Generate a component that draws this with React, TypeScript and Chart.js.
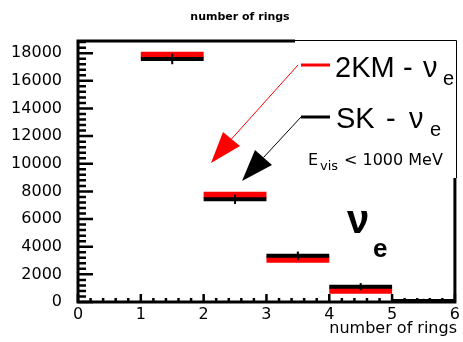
import React, { useEffect, useRef } from "react";
import { Chart, registerables } from "chart.js";

Chart.register(...registerables);

// ---- data ----
const binLowEdges = [0, 1, 2, 3, 4, 5];
const binWidth = 1;
const red2KM = [0, 17870, 7740, 3070, 830, 0];
const blackSK = [0, 17580, 7430, 3350, 1110, 80];
const skErrors = [0, 380, 340, 300, 260, 150];
const yTickValues = [0, 2000, 4000, 6000, 8000, 10000, 12000, 14000, 16000, 18000];
const xTickValues = [0, 1, 2, 3, 4, 5, 6];
const titleText = "number of rings";
const xAxisTitle = "number of rings";
const legendRedName = "2KM";
const legendBlackName = "SK";
const nu = "\u03bd";

const FONT = "'DejaVu Sans', sans-serif";
const HFONT = "'Liberation Sans', Arial, sans-serif";

function histPoints(values: number[]) {
  const pts: any[] = [];
  values.forEach((v, i) => {
    const lo = binLowEdges[i];
    const y = v > 0 ? v : null; // empty bins are hidden under the axis
    pts.push({ x: lo, y });
    pts.push({ x: lo + binWidth, y });
    pts.push({ x: lo + binWidth, y: null });
  });
  return pts;
}

const decorPlugin = {
  id: "decor",
  afterDatasetsDraw(chart: any) {
    const ctx = chart.ctx;
    const xs = chart.scales.x;
    const ys = chart.scales.y;
    const ca = chart.chartArea;
    ctx.save();

    // error bars on SK histogram
    ctx.strokeStyle = "#000";
    ctx.lineWidth = 2;
    blackSK.forEach((v, i) => {
      if (!skErrors[i]) return;
      const cx = xs.getPixelForValue(binLowEdges[i] + binWidth / 2);
      ctx.beginPath();
      ctx.moveTo(cx, ys.getPixelForValue(v - skErrors[i]));
      ctx.lineTo(cx, ys.getPixelForValue(v + skErrors[i]));
      ctx.stroke();
    });

    // frame / axes
    ctx.strokeStyle = "#000";
    ctx.lineWidth = 3;
    ctx.beginPath();
    ctx.moveTo(ca.left, ca.top - 1.5);
    ctx.lineTo(ca.left, ca.bottom + 1.5);
    ctx.moveTo(ca.left - 1.5, ca.bottom);
    ctx.lineTo(ca.right + 1.5, ca.bottom);
    ctx.moveTo(ca.left - 1.5, ca.top);
    ctx.lineTo(295, ca.top);
    ctx.moveTo(ca.right, 178);
    ctx.lineTo(ca.right, ca.bottom + 1.5);
    ctx.stroke();

    // y ticks
    ctx.lineWidth = 2.5;
    ctx.beginPath();
    for (let v = 0; v <= ys.max; v += 400) {
      const py = ys.getPixelForValue(v);
      const major = v % 2000 === 0;
      ctx.moveTo(ca.left, py);
      ctx.lineTo(ca.left + (major ? 15 : 8), py);
    }
    // x ticks
    for (let k = 0; k <= 30; k++) {
      const v = k * 0.2;
      const px = xs.getPixelForValue(v);
      const major = k % 5 === 0;
      ctx.moveTo(px, ca.bottom);
      ctx.lineTo(px, ca.bottom - (major ? 8 : 4));
    }
    ctx.stroke();

    // legend box (thin)
    ctx.lineWidth = 1;
    ctx.beginPath();
    ctx.moveTo(295, 40.5);
    ctx.lineTo(456.5, 40.5);
    ctx.lineTo(456.5, 178);
    ctx.stroke();

    // legend markers
    ctx.lineWidth = 3;
    ctx.strokeStyle = "#ff0000";
    ctx.beginPath();
    ctx.moveTo(301, 65);
    ctx.lineTo(330, 65);
    ctx.stroke();
    ctx.strokeStyle = "#000";
    ctx.beginPath();
    ctx.moveTo(301, 117);
    ctx.lineTo(330, 117);
    ctx.stroke();

    // arrows
    const arrow = (color: string, x0: number, y0: number, tip: number[], c1: number[], c2: number[]) => {
      ctx.strokeStyle = color;
      ctx.fillStyle = color;
      ctx.lineWidth = 1;
      ctx.beginPath();
      ctx.moveTo(x0, y0);
      ctx.lineTo((c1[0] + c2[0]) / 2, (c1[1] + c2[1]) / 2);
      ctx.stroke();
      ctx.beginPath();
      ctx.moveTo(tip[0], tip[1]);
      ctx.lineTo(c1[0], c1[1]);
      ctx.lineTo(c2[0], c2[1]);
      ctx.closePath();
      ctx.fill();
    };
    arrow("#ff0000", 298, 65, [211, 163], [223, 132], [240, 146]);
    arrow("#000000", 301, 117, [242, 181], [255, 150], [272, 165]);

    // legend texts
    ctx.fillStyle = "#000";
    ctx.textBaseline = "alphabetic";
    ctx.textAlign = "left";
    ctx.font = `29px ${HFONT}`;
    ctx.fillText(legendRedName, 335, 77);
    ctx.fillText("-", 403, 77);
    ctx.fillText(nu, 423, 77);
    ctx.fillText(legendBlackName, 336, 128);
    ctx.fillText("-", 386, 128);
    ctx.fillText(nu, 409, 128);
    ctx.font = `20px ${HFONT}`;
    ctx.fillText("e", 443, 85);
    ctx.fillText("e", 430, 136);

    ctx.font = `16px ${FONT}`;
    ctx.fillText("E", 308, 165);
    ctx.fillText("< 1000 MeV", 344, 165);
    ctx.font = `13px ${FONT}`;
    ctx.fillText("vis", 320, 170);

    // big nu_e
    ctx.font = `bold 40px ${HFONT}`;
    ctx.fillText(nu, 347, 233);
    ctx.font = `bold 26px ${HFONT}`;
    ctx.fillText("e", 373, 257);

    // title
    ctx.textAlign = "center";
    ctx.font = `bold 11px ${FONT}`;
    ctx.fillText(titleText, 240, 20);

    // x axis title
    ctx.textAlign = "right";
    ctx.font = `16px ${FONT}`;
    ctx.fillText(xAxisTitle, 457, 333);

    ctx.restore();
  },
};

export default function App() {
  const ref = useRef<HTMLCanvasElement>(null);
  useEffect(() => {
    const canvas = ref.current;
    if (!canvas) return;
    const chart = new Chart(canvas, {
      type: "line",
      data: {
        datasets: [
          {
            label: "2KM",
            data: histPoints(red2KM),
            borderColor: "#ff0000",
            borderWidth: 6.5,
            borderCapStyle: "butt",
            pointRadius: 0,
            spanGaps: false,
            clip: 0,
            order: 2,
          },
          {
            label: "SK",
            data: histPoints(blackSK),
            borderColor: "#000000",
            borderWidth: 4,
            borderCapStyle: "butt",
            pointRadius: 0,
            spanGaps: false,
            clip: 0,
            order: 1,
          },
        ],
      },
      options: {
        animation: false,
        responsive: false,
        maintainAspectRatio: false,
        events: [],
        layout: { padding: { top: 41, right: 6, left: 0, bottom: 0 } },
        plugins: {
          legend: { display: false },
          title: { display: false },
          tooltip: { enabled: false },
        },
        scales: {
          x: {
            type: "linear",
            min: 0,
            max: 6,
            grid: { display: false, drawTicks: false },
            border: { display: false },
            afterBuildTicks: (s: any) => {
              s.ticks = xTickValues.map((v) => ({ value: v }));
            },
            afterFit: (s: any) => {
              s.height = 40;
            },
            ticks: {
              padding: 3,
              color: "#000",
              font: { family: FONT, size: 16 },
              maxRotation: 0,
              autoSkip: false,
              callback: (v: any) => String(v),
            },
          },
          y: {
            type: "linear",
            min: 0,
            max: 18880,
            grid: { display: false, drawTicks: false },
            border: { display: false },
            afterBuildTicks: (s: any) => {
              s.ticks = yTickValues.map((v) => ({ value: v }));
            },
            afterFit: (s: any) => {
              s.width = 78;
            },
            ticks: {
              padding: 16,
              color: "#000",
              font: { family: FONT, size: 16 },
              autoSkip: false,
              callback: (v: any) => String(v),
            },
          },
        },
      },
      plugins: [decorPlugin],
    } as any);
    return () => chart.destroy();
  }, []);
  return (
    <div style={{ position: "fixed", left: 0, top: 0, width: 463, height: 342, background: "#fff" }}>
      <canvas ref={ref} width={463} height={342} style={{ width: 463, height: 342, display: "block" }} />
    </div>
  );
}
